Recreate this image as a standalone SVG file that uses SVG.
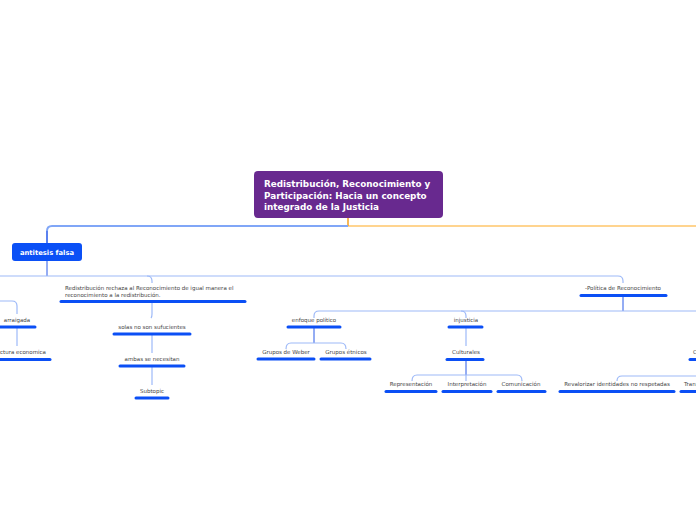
<svg xmlns="http://www.w3.org/2000/svg" width="696" height="520" viewBox="0 0 696 520">
<style>
.t{font-family:"DejaVu Sans",Verdana,sans-serif;font-size:5.5px;fill:#444444;text-anchor:middle}
.tl{text-anchor:start}
.te{text-anchor:end}
.u{stroke:#0B4FF5;stroke-width:3;stroke-linecap:round;fill:none}
.lt{stroke:#9DB9F8;stroke-width:1.2;fill:none}
.dk{stroke:#2A5AE8;stroke-width:1;fill:none}
.ct{font-family:"DejaVu Sans",Verdana,sans-serif;font-weight:bold;fill:#ffffff}
</style>
<rect width="696" height="520" fill="#ffffff"/>
<g id="connectors">
<path d="M348,226 H696" stroke="#FFC66A" stroke-width="1.6" fill="none"/>
<path d="M348,218 V226" stroke="#F5A020" stroke-width="1.5" fill="none"/>
<path d="M348,226 H52 Q47,226 47,231" stroke="#80A6F7" stroke-width="2" fill="none"/>
<path d="M47,231 V243" stroke="#2557EA" stroke-width="1.5" fill="none"/>
<path class="dk" d="M47,261 V276"/>
<path class="lt" d="M0,276 H618 Q623,276 623,281 V283"/>
<path class="lt" d="M147,276 Q152,276 152,281 V283"/>
<path class="lt" d="M0,301 H12 Q17,301 17,306 V314"/>
<path class="lt" d="M17,328 V346"/>
<path class="lt" d="M152,302 V314 Q152,317 151,318"/>
<path class="lt" d="M152,335 V353"/>
<path class="lt" d="M152,367 V385"/>
<path class="dk" d="M623,296 V311"/>
<path class="lt" d="M696,311 H319 Q314,311 314,316 V318"/>
<path class="lt" d="M461,311 Q466,311 466,316 V318"/>
<path class="dk" d="M314,328 V343"/>
<path class="lt" d="M286,349 Q286,343 291,343 H341 Q346,343 346,349"/>
<path class="lt" d="M466,328 V346"/>
<path class="dk" d="M466,360 V375"/>
<path class="lt" d="M412,381 Q412,375 417,375 H517 Q522,375 522,381"/>
<path class="lt" d="M466,375 V381"/>
<path class="lt" d="M696,376 H622 Q617,376 617,381"/>
</g>
<g id="central">
<rect x="254" y="171" width="189" height="47" rx="4" fill="#68298F"/>
<text class="ct" font-size="8.8" x="264" y="187">Redistribución, Reconocimiento y</text>
<text class="ct" font-size="8.8" x="264" y="198.5">Participación: Hacia un concepto</text>
<text class="ct" font-size="8.8" x="264" y="210">integrado de la Justicia</text>
</g>
<g id="antitesis">
<rect x="12" y="243" width="70" height="18" rx="3" fill="#0B50F6"/>
<text class="ct" font-size="6.8" x="47" y="254.5" text-anchor="middle">antitesis falsa</text>
</g>
<g id="redistribucion">
<text class="t tl" x="65" y="289.5">Redistribución rechaza al Reconocimiento de igual manera el</text>
<text class="t tl" x="65" y="297">reconocimiento a la redistribución.</text>
<path class="u" d="M61,301.5 H245"/>
</g>
<g id="arraigada">
<text class="t" x="17" y="322">arraigada</text>
<path class="u" d="M-5,327 H35"/>
</g>
<g id="estructura">
<text class="t te" x="46" y="354">estructura economica</text>
<path class="u" d="M-5,359.5 H50"/>
</g>
<g id="solas">
<text class="t" x="152" y="329">solas no son sufucientes</text>
<path class="u" d="M114,334 H190"/>
</g>
<g id="ambas">
<text class="t" x="152" y="361">ambas se necesitan</text>
<path class="u" d="M120,366 H184"/>
</g>
<g id="subtopic">
<text class="t" x="152" y="393">Subtopic</text>
<path class="u" d="M136,398 H168"/>
</g>
<g id="politica">
<text class="t" x="623" y="290">-Política de Reconocimiento</text>
<path class="u" d="M581,295.5 H666"/>
</g>
<g id="enfoque">
<text class="t" x="314" y="322">enfoque político</text>
<path class="u" d="M288,327 H340"/>
</g>
<g id="weber">
<text class="t" x="286" y="354">Grupos de Weber</text>
<path class="u" d="M258,359 H314"/>
</g>
<g id="etnicos">
<text class="t" x="346" y="354">Grupos étnicos</text>
<path class="u" d="M321,359 H370"/>
</g>
<g id="injusticia">
<text class="t" x="466" y="322">injusticia</text>
<path class="u" d="M449,327 H482"/>
</g>
<g id="culturales">
<text class="t" x="466" y="354">Culturales</text>
<path class="u" d="M447,359.5 H483"/>
</g>
<g id="representacion">
<text class="t" x="411" y="386">Representación</text>
<path class="u" d="M386,391.5 H436"/>
</g>
<g id="interpretacion">
<text class="t" x="467" y="386">Interpretación</text>
<path class="u" d="M443,391.5 H491"/>
</g>
<g id="comunicacion">
<text class="t" x="521" y="386">Comunicación</text>
<path class="u" d="M498,391.5 H545"/>
</g>
<g id="revalorizar">
<text class="t" x="617" y="386">Revalorizar identidades no respetadas</text>
<path class="u" d="M560,391.5 H674"/>
</g>
<g id="transformacion">
<text class="t tl" x="684" y="386">Transformación</text>
<path class="u" d="M681,391.5 H700"/>
</g>
<g id="c-node">
<text class="t tl" x="693" y="354">Cambio</text>
<path class="u" d="M690,359.5 H700"/>
</g>
</svg>
